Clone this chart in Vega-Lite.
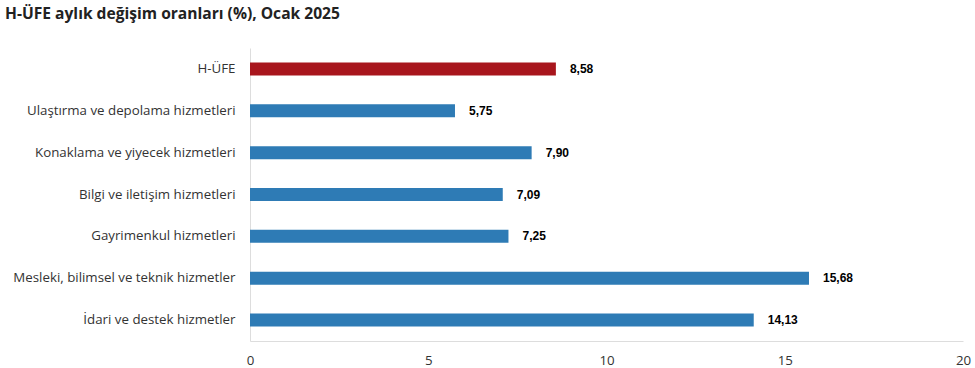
{
  "$schema": "https://vega.github.io/schema/vega-lite/v6.json",
  "width": 713,
  "height": 293,
  "autosize": {"type": "none"},
  "padding": {"left": 250, "top": 48, "right": 12, "bottom": 27},
  "background": "white",
  "title": {
    "text": "H-ÜFE aylık değişim oranları (%), Ocak 2025",
    "anchor": "start",
    "frame": "group",
    "dx": -245,
    "offset": 25,
    "font": "Open Sans",
    "fontSize": 15.6,
    "fontWeight": "bold",
    "color": "#222222"
  },
  "config": {
    "view": {"stroke": null},
    "locale": {"number": {"decimal": ",", "thousands": ".", "grouping": [3], "currency": ["", " ₺"]}}
  },
  "data": {
    "values": [
      {"kategori": "H-ÜFE", "deger": 8.58},
      {"kategori": "Ulaştırma ve depolama hizmetleri", "deger": 5.75},
      {"kategori": "Konaklama ve yiyecek hizmetleri", "deger": 7.90},
      {"kategori": "Bilgi ve iletişim hizmetleri", "deger": 7.09},
      {"kategori": "Gayrimenkul hizmetleri", "deger": 7.25},
      {"kategori": "Mesleki, bilimsel ve teknik hizmetler", "deger": 15.68},
      {"kategori": "İdari ve destek hizmetler", "deger": 14.13}
    ]
  },
  "encoding": {
    "y": {
      "field": "kategori",
      "type": "nominal",
      "sort": null,
      "scale": {"paddingInner": 0, "paddingOuter": 0},
      "axis": {
        "title": null,
        "ticks": false,
        "domain": true,
        "domainColor": "#dddddd",
        "labelPadding": 15,
        "labelFont": "Open Sans",
        "labelFontSize": 13.3,
        "labelColor": "#333333",
        "labelLimit": 300
      }
    },
    "x": {
      "field": "deger",
      "type": "quantitative",
      "scale": {"domain": [0, 20], "nice": false},
      "axis": {
        "title": null,
        "values": [0, 5, 10, 15, 20],
        "grid": false,
        "ticks": false,
        "labelFlush": false,
        "domainColor": "#dddddd",
        "labelPadding": 12,
        "labelFont": "Open Sans",
        "labelFontSize": 13.3,
        "labelColor": "#333333",
        "format": "d"
      }
    }
  },
  "layer": [
    {
      "mark": {"type": "bar", "height": 13},
      "encoding": {
        "color": {
          "condition": {"test": "datum.kategori === 'H-ÜFE'", "value": "#A8161D"},
          "value": "#2E7BB5"
        }
      }
    },
    {
      "mark": {
        "type": "text",
        "align": "left",
        "baseline": "middle",
        "dx": 14,
        "font": "Liberation Sans",
        "fontSize": 12,
        "fontWeight": "bold",
        "color": "#000000"
      },
      "encoding": {
        "text": {"field": "deger", "type": "quantitative", "format": ".2f"}
      }
    }
  ]
}
